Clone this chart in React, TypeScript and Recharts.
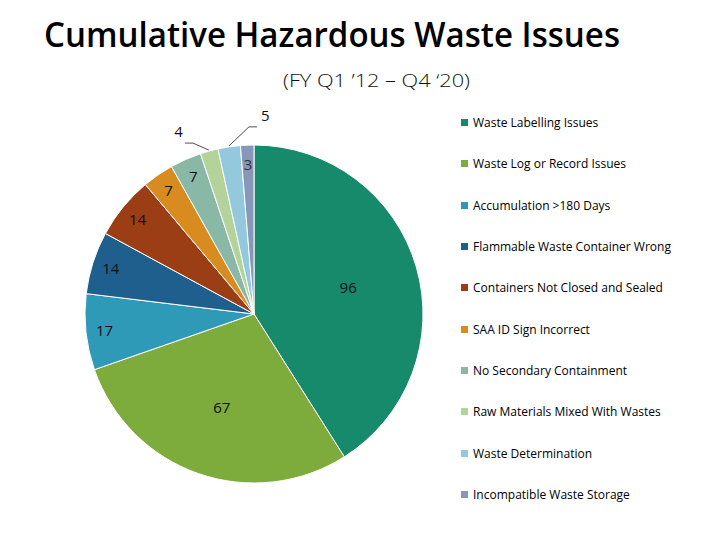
import React from "react";
import { PieChart, Pie, Cell, Legend } from "recharts";

// ── Data ──────────────────────────────────────────────────────────────────────
const CATEGORIES = [
  "Waste Labelling Issues",
  "Waste Log or Record Issues",
  "Accumulation >180 Days",
  "Flammable Waste Container Wrong",
  "Containers Not Closed and Sealed",
  "SAA ID Sign Incorrect",
  "No Secondary Containment",
  "Raw Materials Mixed With Wastes",
  "Waste Determination",
  "Incompatible Waste Storage",
];

const ISSUE_COUNTS = [96, 67, 17, 14, 14, 7, 7, 4, 5, 3];

const COLORS = [
  "#178a6c",
  "#7dab3c",
  "#2f9ab8",
  "#1f5f8e",
  "#9b3e16",
  "#d88b1e",
  "#8ab8a6",
  "#b4d39a",
  "#94c9dd",
  "#8797b8",
];

const TITLE = "Cumulative Hazardous Waste Issues";
const SUBTITLE = "(FY Q1 \u201912 \u2013 Q4 \u201820)";

const data = CATEGORIES.map((name, i) => ({ name, value: ISSUE_COUNTS[i] }));

const RAD = Math.PI / 180;
const FONT = "'Open Sans', 'Noto Sans', sans-serif";

// ── Data labels: inside for big slices, leader lines for the two tiny ones ────
const renderLabel = (props: any) => {
  const { cx, cy, midAngle, outerRadius, value, index } = props;
  const cos = Math.cos(-midAngle * RAD);
  const sin = Math.sin(-midAngle * RAD);

  if (index === 7 || index === 8) {
    const ex = cx + (outerRadius + 1) * cos;
    const ey = cy + (outerRadius + 1) * sin;
    const left = index === 7;
    const mx = ex + (left ? -16 : 20);
    const my = ey + (left ? -7 : -19);
    const tx = mx + (left ? -8 : 8);
    return (
      <g>
        <polyline
          points={`${ex},${ey} ${mx},${my} ${tx},${my}`}
          fill="none"
          stroke="#222"
          strokeWidth={0.8}
        />
        <text
          x={tx + (left ? -2 : 4)}
          y={my - 6}
          textAnchor={left ? "end" : "start"}
          fontFamily={FONT}
          fontSize={15}
          fill="#111"
        >
          {value}
        </text>
      </g>
    );
  }

  const r = value >= 50 ? outerRadius * 0.58 : outerRadius * 0.89;
  const x = cx + r * cos;
  const y = cy + r * sin;
  return (
    <text
      x={x}
      y={y}
      textAnchor="middle"
      dominantBaseline="central"
      fontFamily={FONT}
      fontSize={15}
      fill={index === 9 ? "#333" : "#111"}
    >
      {value}
    </text>
  );
};

// ── Legend ────────────────────────────────────────────────────────────────────
const LegendContent = () => (
  <div>
    {CATEGORIES.map((name, i) => (
      <div
        key={name}
        style={{
          display: "flex",
          alignItems: "center",
          height: 41.3,
          fontFamily: FONT,
          fontSize: 12,
          fontWeight: 500,
          color: "#000",
          whiteSpace: "nowrap",
        }}
      >
        <span
          style={{
            display: "inline-block",
            width: 7,
            height: 7,
            marginRight: 5,
            background: COLORS[i],
          }}
        />
        {name}
      </div>
    ))}
  </div>
);

export default function App() {
  return (
    <div
      style={{
        position: "fixed",
        left: 0,
        top: 0,
        width: 720,
        height: 540,
        background: "#fff",
      }}
    >
      <svg width={720} height={110} style={{ position: "absolute", left: 0, top: 0 }}>
        <text
          x={44}
          y={47}
          fontFamily={FONT}
          fontWeight={600}
          fontSize={34}
          textLength={576}
          lengthAdjust="spacingAndGlyphs"
          fill="#000"
        >
          {TITLE}
        </text>
        <text
          x={283}
          y={87}
          fontFamily={FONT}
          fontWeight={300}
          fontSize={19}
          textLength={187}
          lengthAdjust="spacingAndGlyphs"
          fill="#111"
        >
          {SUBTITLE}
        </text>
      </svg>
      <div style={{ position: "absolute", left: 0, top: 0 }}>
        <PieChart width={720} height={540}>
          <Pie
            data={data}
            dataKey="value"
            nameKey="name"
            cx={249}
            cy={309}
            outerRadius={169}
            startAngle={90}
            endAngle={-270}
            stroke="#fff"
            strokeWidth={1}
            label={renderLabel}
            labelLine={false}
            isAnimationActive={false}
          >
            {data.map((d, i) => (
              <Cell key={d.name} fill={COLORS[i]} />
            ))}
          </Pie>
          <Legend
            layout="vertical"
            content={<LegendContent />}
            wrapperStyle={{ position: "absolute", left: 461, top: 102, width: 250 }}
          />
        </PieChart>
      </div>
    </div>
  );
}
